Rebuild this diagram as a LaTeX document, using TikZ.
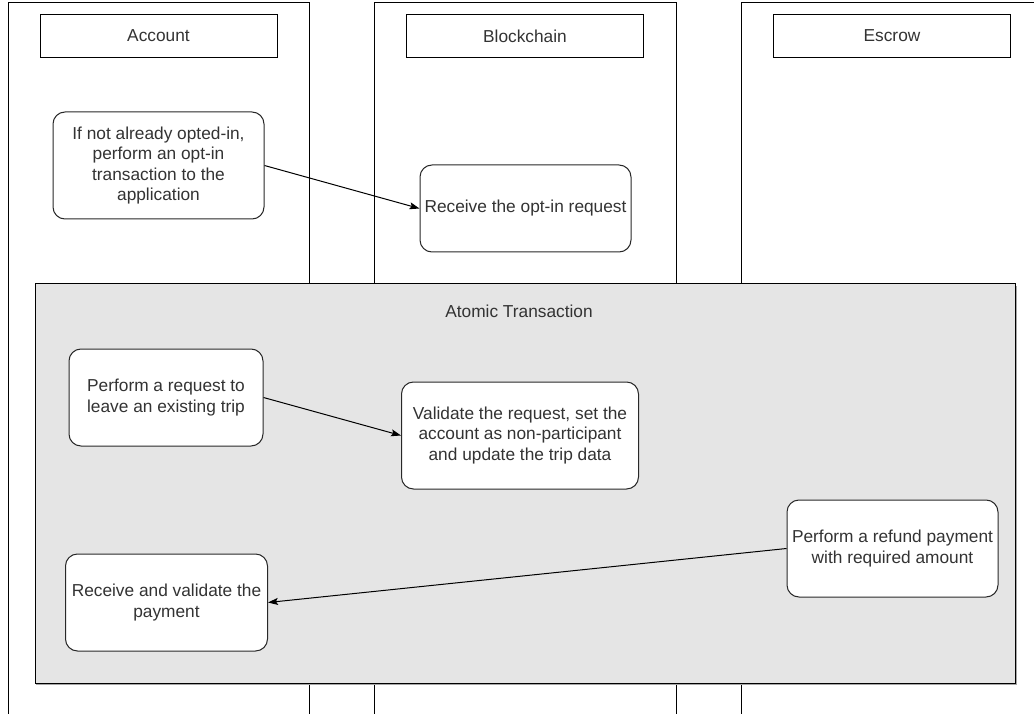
\documentclass[tikz,border=0pt]{standalone}
\usepackage{fontspec}
\setmainfont{Liberation Sans}
\usetikzlibrary{arrows.meta,positioning}
\definecolor{txt}{RGB}{51,51,51}
\definecolor{groupfill}{RGB}{229,229,229}
\definecolor{edge}{RGB}{40,40,40}
\tikzset{
  lane/.style={draw=black, line width=1pt, fill=white},
  header/.style={draw=black, line width=1pt, fill=white, minimum width=237pt, minimum height=43pt,
    inner sep=0pt, text=txt, font=\fontsize{17.3}{20.5}\selectfont},
  stepbox/.style={draw=edge, line width=1pt, fill=white, rounded corners=12pt,
    align=center, inner sep=0pt, text=txt, font=\fontsize{17.3}{20.5}\selectfont},
  flow/.style={draw=black, line width=1pt, -{Stealth[length=10pt,width=7pt,inset=2pt]}},
  grouplabel/.style={text=txt, font=\fontsize{17.3}{20.5}\selectfont}
}
\begin{document}
\begin{tikzpicture}[x=1pt,y=-1pt]
  \useasboundingbox (0,0) rectangle (1034,714);
  \begin{scope}
    \clip (0,0) rectangle (1034,714);
    % swimlanes
    \draw[lane] (8,3) rectangle (309,730);
    \draw[lane] (374,3) rectangle (676,730);
    \draw[lane] (741,3) rectangle (1050,730);
  \end{scope}

  % lane headers
  \node[header] (hacc) at (158.5,36) {Account};
  \node[header] (hbc)  at (525,36) {Blockchain};
  \node[header] (hesc) at (892,36) {Escrow};

  % opt-in step
  \node[stepbox, minimum width=211pt, minimum height=107pt] (optin) at (158.5,165.5)
    {If not already opted-in,\\perform an opt-in\\transaction to the\\application};
  \node[stepbox, minimum width=211pt, minimum height=87pt] (recvopt) at (525.5,208.5)
    {Receive the opt-in request};
  \draw[flow] (optin.east) -- (recvopt.west);

  % atomic transaction group
  \fill[gray!70] (36,286) rectangle (1017,685);
  \draw[line width=1pt, fill=groupfill] (35,284) rectangle (1015,683);
  \node[grouplabel] (atomic) at (519,311) {Atomic Transaction};

  \node[stepbox, minimum width=194pt, minimum height=97pt] (leave) at (166,397.5)
    {Perform a request to\\leave an existing trip};
  \node[stepbox, minimum width=237pt, minimum height=107pt] (validate) at (520,435.5)
    {Validate the request, set the\\account as non-participant\\and update the trip data};
  \draw[flow] (leave.east) -- (validate.west);

  \node[stepbox, minimum width=211pt, minimum height=97pt] (refund) at (892.5,548.5)
    {Perform a refund payment\\with required amount};
  \node[stepbox, minimum width=202pt, minimum height=97pt] (recvpay) at (166.5,602.5)
    {Receive and validate the\\payment};
  \draw[flow] (refund.west) -- (recvpay.east);
\end{tikzpicture}
\end{document}
